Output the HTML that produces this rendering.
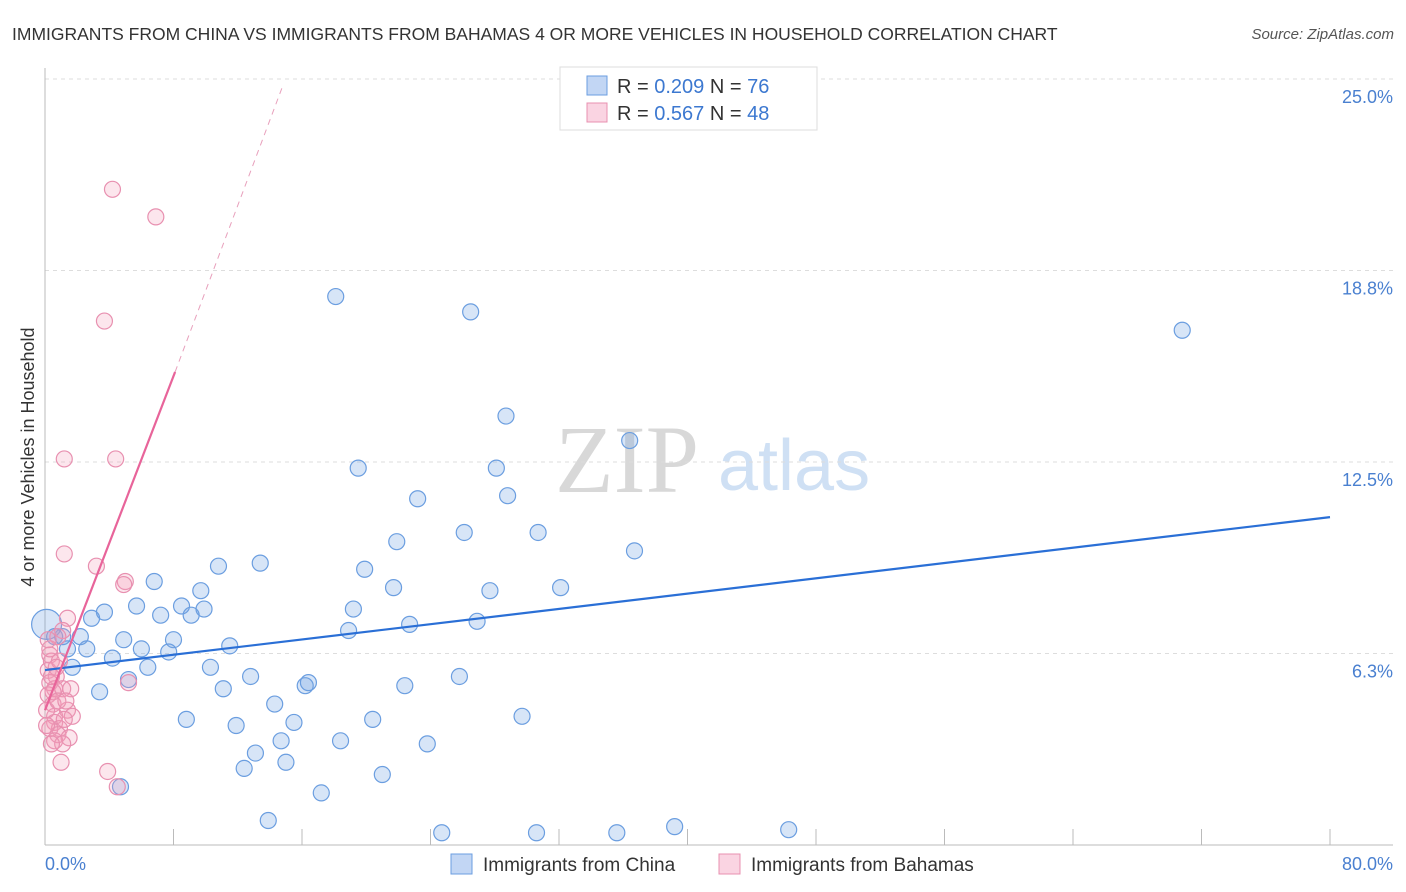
<!DOCTYPE html>
<html><head><meta charset="utf-8">
<style>
body{margin:0;background:#fff;font-family:"Liberation Sans",sans-serif;}
#wrap{position:relative;width:1406px;height:892px;overflow:hidden;}
</style></head>
<body>
<div id="wrap">
<svg id="chart" width="1406" height="892">
<text x="12" y="40" font-size="17.5" fill="#333">IMMIGRANTS FROM CHINA VS IMMIGRANTS FROM BAHAMAS 4 OR MORE VEHICLES IN HOUSEHOLD CORRELATION CHART</text>
<text x="1394" y="39" font-size="15" fill="#555" font-style="italic" text-anchor="end">Source: ZipAtlas.com</text>
<g>
<text x="555" y="492" font-size="96" font-family="Liberation Serif,serif" fill="#d8d8d8">ZIP</text>
<text x="718" y="490" font-size="72" fill="#cfe0f4">atlas</text>
</g>
<g id="grid"></g>
<g id="axes"></g>
<g id="marks"></g>
<g>
<rect x="560" y="67" width="257" height="63" fill="#fff" stroke="#ddd"/>
<rect x="587" y="76" width="20" height="19" fill="rgba(120,165,230,0.45)" stroke="#6b9ee0"/>
<text x="617" y="93" font-size="20" fill="#333">R = <tspan fill="#3c78d0">0.209</tspan>   N = <tspan fill="#3c78d0">76</tspan></text>
<rect x="587" y="103" width="20" height="19" fill="rgba(245,160,190,0.45)" stroke="#e890b0"/>
<text x="617" y="120" font-size="20" fill="#333">R = <tspan fill="#3c78d0">0.567</tspan>   N = <tspan fill="#3c78d0">48</tspan></text>
</g>
<g>
<rect x="451" y="854" width="21" height="20" fill="rgba(120,165,230,0.45)" stroke="#6b9ee0"/>
<text x="483" y="871" font-size="19" fill="#333">Immigrants from China</text>
<rect x="719" y="854" width="21" height="20" fill="rgba(245,160,190,0.45)" stroke="#e890b0"/>
<text x="751" y="871" font-size="19" fill="#333">Immigrants from Bahamas</text>
</g>
</svg>
</div>
<script>
const yTicks=[6.25,12.5,18.75,25];
const yTickLabels=["6.3%","12.5%","18.8%","25.0%"];
const xTickCount=10;
const chinaX=[18.1,26.5,70.8,28.7,36.4,19.5,28.1,23.2,28.8,26.1,30.7,21.9,36.7,10.8,13.4,19.9,6.8,21.7,27.7,32.1,9.7,3.7,5.7,8.5,9.9,7.2,9.1,2.9,19.2,26.9,22.7,18.9,2.2,4.9,11.5,8.0,6.0,2.6,1.1,4.2,7.7,6.4,1.7,10.3,12.8,16.2,16.4,22.4,25.8,11.1,3.4,5.2,14.3,8.8,11.9,15.5,20.4,29.7,14.7,18.4,23.8,13.1,15.0,12.4,21.0,17.2,4.7,13.9,24.7,30.6,35.6,39.2,46.3,0.1,0.6,1.4];
const chinaY=[17.9,17.4,16.8,14.0,13.2,12.3,12.3,11.3,11.4,10.2,10.2,9.9,9.6,9.1,9.2,9.0,8.6,8.4,8.3,8.4,8.3,7.6,7.8,7.8,7.7,7.5,7.5,7.4,7.7,7.3,7.2,7.0,6.8,6.7,6.5,6.7,6.4,6.4,6.8,6.1,6.3,5.8,5.8,5.8,5.5,5.2,5.3,5.2,5.5,5.1,5.0,5.4,4.6,4.1,3.9,4.0,4.1,4.2,3.4,3.4,3.3,3.0,2.7,2.5,2.3,1.7,1.9,0.8,0.4,0.4,0.4,0.6,0.5,7.2,6.8,6.4];
const bahX=[4.2,6.9,3.7,1.2,4.4,1.2,3.2,5.0,4.9,1.4,1.1,0.8,0.3,0.4,0.2,0.7,0.3,0.6,1.1,1.6,5.2,0.2,0.5,1.4,0.6,1.7,0.6,0.9,0.3,0.8,1.5,0.6,1.1,1.0,3.9,4.5,0.3,0.9,0.5,0.1,0.8,0.1,0.4,1.2,0.2,0.7,1.3,0.4];
const bahY=[21.4,20.5,17.1,12.6,12.6,9.5,9.1,8.6,8.5,7.4,7.0,6.8,6.2,6.0,5.7,5.5,5.3,5.1,5.1,5.1,5.3,4.9,4.6,4.4,4.2,4.2,4.0,3.8,3.8,3.6,3.5,3.4,3.3,2.7,2.4,1.9,6.4,6.0,5.0,4.4,4.7,3.9,3.3,4.1,6.7,5.8,4.7,5.5];
const chinaTrend=[[0,5.71],[80,10.7]];
const bahTrendSolid=[[0,4.4],[8.1,15.44]];
const bahTrendDash=[[8.1,15.44],[14.82,24.8]];

const NS="http://www.w3.org/2000/svg";
const X0=45,X1=1330,Y0=845,YPER=191.5/6.25;
const sx=v=>X0+v/80*(X1-X0);
const sy=v=>Y0-v*YPER;
function mk(tag,attrs,parent){const e=document.createElementNS(NS,tag);for(const k in attrs)e.setAttribute(k,attrs[k]);parent.appendChild(e);return e;}
const grid=document.getElementById('grid'),axes=document.getElementById('axes'),marks=document.getElementById('marks');
yTicks.forEach((t,i)=>{
 const l=mk('line',{x1:X0,x2:1393,y1:sy(t),y2:sy(t),stroke:'#ddd','stroke-dasharray':'4,4'},grid);
 
 
 const tx=mk('text',{x:1393,y:sy(t)+24,'font-size':18,fill:'#4a80d0','text-anchor':'end'},axes);
 tx.textContent=yTickLabels[i];
 
 
});
const al=mk('line',{x1:X0,x2:X0,y1:68,y2:Y0,stroke:'#bbb'},axes);


const bl=mk('line',{x1:X0,x2:1393,y1:Y0,y2:Y0,stroke:'#bbb'},axes);


for(let i=0;i<=xTickCount;i++){
 const x=sx(i*80/xTickCount);
 const t=mk('line',{x1:x,x2:x,y1:Y0,y2:Y0-16,stroke:'#bbb'},axes);
 
 
}
const xl0=mk('text',{x:45,y:870,'font-size':18,fill:'#4a80d0'},axes);xl0.textContent='0.0%';


const xl1=mk('text',{x:1393,y:870,'font-size':18,fill:'#4a80d0','text-anchor':'end'},axes);xl1.textContent='80.0%';


const yt=mk('text',{x:34,y:457,'font-size':18,fill:'#333','text-anchor':'middle',transform:'rotate(-90 34 457)'},axes);
yt.textContent='4 or more Vehicles in Household';


chinaX.forEach((v,i)=>{
 const c=mk('circle',{cx:sx(v),cy:sy(chinaY[i]),r:i==73?15:8,fill:'rgba(110,160,225,0.28)',stroke:'#6b9ee0','stroke-width':1.2},marks);
 
 
});
bahX.forEach((v,i)=>{
 const c=mk('circle',{cx:sx(v),cy:sy(bahY[i]),r:8,fill:'rgba(245,155,185,0.25)',stroke:'#e890b0','stroke-width':1.2},marks);
 
 
});
const l1=mk('line',{x1:sx(chinaTrend[0][0]),y1:sy(chinaTrend[0][1]),x2:sx(chinaTrend[1][0]),y2:sy(chinaTrend[1][1]),stroke:'#2a6fd6','stroke-width':2.2},marks);


const l2=mk('line',{x1:sx(bahTrendSolid[0][0]),y1:sy(bahTrendSolid[0][1]),x2:sx(bahTrendSolid[1][0]),y2:sy(bahTrendSolid[1][1]),stroke:'#e8649a','stroke-width':2.2},marks);


const l3=mk('line',{x1:sx(bahTrendDash[0][0]),y1:sy(bahTrendDash[0][1]),x2:sx(bahTrendDash[1][0]),y2:sy(bahTrendDash[1][1]),stroke:'#e8a0bc','stroke-width':1,'stroke-dasharray':'6,5'},marks);


</script>
</body></html>
